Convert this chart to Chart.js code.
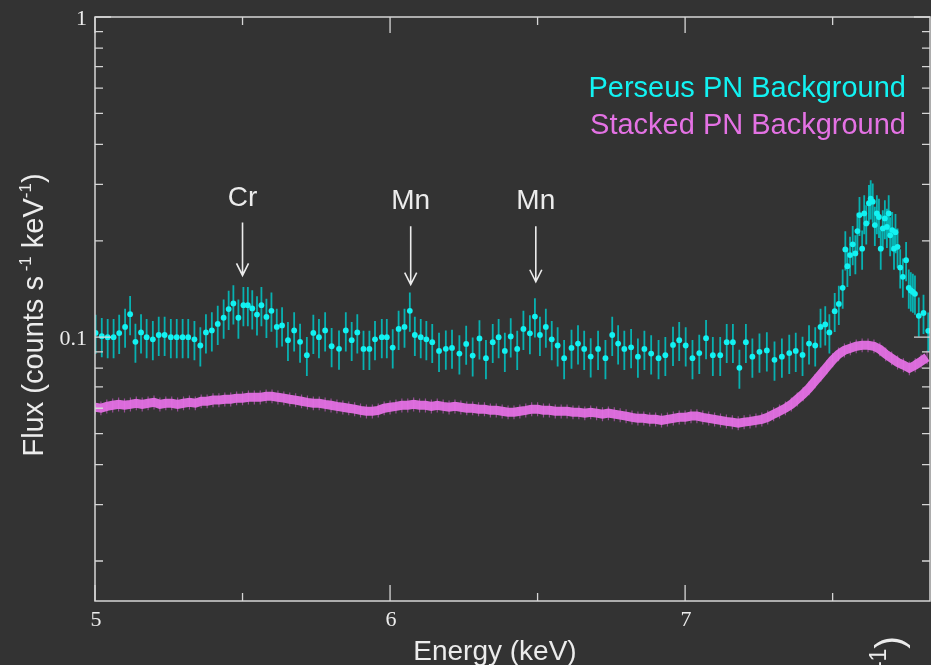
<!DOCTYPE html>
<html>
<head>
<meta charset="utf-8">
<script src="https://cdn.jsdelivr.net/npm/chart.js@4.4.1/dist/chart.umd.min.js"></script>
<style>
  html, body { margin: 0; padding: 0; background: #333333; }
  #wrap { width: 931px; height: 665px; overflow: hidden; }
</style>
</head>
<body>
<div id="wrap"><canvas id="spec" width="934" height="665"></canvas></div>
<script>
// Perseus PN background (binned, with errors)
const perseusEnergy = [
  5.002, 5.023, 5.043, 5.063, 5.082, 5.102, 5.119, 5.137, 5.156, 5.175,
  5.196, 5.216, 5.236, 5.257, 5.277, 5.297, 5.316, 5.337, 5.357, 5.376,
  5.396, 5.416, 5.436, 5.453, 5.469, 5.486, 5.503, 5.518, 5.533, 5.549,
  5.564, 5.581, 5.598, 5.616, 5.634, 5.654, 5.675, 5.695, 5.718, 5.740,
  5.759, 5.780, 5.802, 5.827, 5.850, 5.870, 5.889, 5.910, 5.930, 5.949,
  5.972, 5.989, 6.009, 6.029, 6.049, 6.067, 6.084, 6.104, 6.123, 6.143,
  6.166, 6.189, 6.210, 6.235, 6.258, 6.280, 6.303, 6.325, 6.348, 6.368,
  6.389, 6.409, 6.431, 6.452, 6.474, 6.491, 6.508, 6.528, 6.548, 6.568,
  6.590, 6.615, 6.637, 6.658, 6.680, 6.705, 6.730, 6.753, 6.773, 6.794,
  6.817, 6.840, 6.862, 6.885, 6.910, 6.933, 6.959, 6.980, 7.002, 7.025,
  7.048, 7.071, 7.094, 7.119, 7.141, 7.162, 7.184, 7.206, 7.228, 7.252,
  7.277, 7.303, 7.328, 7.353, 7.375, 7.398, 7.420, 7.441, 7.459, 7.475,
  7.489, 7.507, 7.521, 7.534, 7.543, 7.550, 7.559, 7.568, 7.577, 7.584,
  7.591, 7.600, 7.607, 7.614, 7.623, 7.629, 7.636, 7.643, 7.650, 7.657,
  7.663, 7.670, 7.677, 7.684, 7.690, 7.695, 7.702, 7.708, 7.713, 7.720,
  7.729, 7.738, 7.749, 7.758, 7.765, 7.772, 7.779, 7.792, 7.808, 7.824
];
const perseusFlux = [
  0.1031, 0.1007, 0.1000, 0.1000, 0.1030, 0.1077, 0.1180, 0.0967, 0.1035, 0.1000,
  0.0985, 0.1016, 0.1016, 0.1000, 0.1000, 0.1000, 0.1000, 0.0985, 0.0942, 0.1035,
  0.1050, 0.1100, 0.1150, 0.1224, 0.1274, 0.1150, 0.1259, 0.1259, 0.1230, 0.1177,
  0.1259, 0.1157, 0.1209, 0.1077, 0.1088, 0.0979, 0.1050, 0.0967, 0.0879, 0.1031,
  0.1000, 0.1050, 0.0937, 0.0920, 0.1050, 0.0979, 0.1035, 0.0919, 0.0919, 0.0985,
  0.1000, 0.1000, 0.0928, 0.1061, 0.1077, 0.1209, 0.1016, 0.1000, 0.0985, 0.0965,
  0.0906, 0.0920, 0.0926, 0.0889, 0.0953, 0.0876, 0.0991, 0.0860, 0.0965, 0.1000,
  0.0906, 0.1005, 0.0919, 0.1061, 0.1028, 0.1160, 0.1016, 0.1077, 0.0985, 0.0942,
  0.0860, 0.0926, 0.0955, 0.0919, 0.0870, 0.0919, 0.0860, 0.1016, 0.0955, 0.0919,
  0.0930, 0.0869, 0.0919, 0.0889, 0.0860, 0.0879, 0.0946, 0.0979, 0.0942, 0.0860,
  0.0892, 0.0993, 0.0879, 0.0879, 0.0965, 0.0965, 0.0802, 0.0965, 0.0869, 0.0900,
  0.0909, 0.0850, 0.0869, 0.0892, 0.0906, 0.0880, 0.0955, 0.0942, 0.1077, 0.1096,
  0.1035, 0.1206, 0.1270, 0.1426, 0.1880, 0.1667, 0.1805, 0.1950, 0.1827, 0.2145,
  0.2406, 0.1890, 0.2436, 0.2266, 0.2620, 0.2710, 0.2650, 0.2240, 0.2436, 0.2373,
  0.1890, 0.2186, 0.2350, 0.2210, 0.2436, 0.2080, 0.2160, 0.1890, 0.2128, 0.1915,
  0.1650, 0.1544, 0.1740, 0.1426, 0.1400, 0.1385, 0.1366, 0.1166, 0.1190, 0.1047
];
const perseusRelErr = 0.14;

// Stacked PN background (fine bins)
const stackedEnergy = [
  5.00, 5.02, 5.04, 5.06, 5.08, 5.10, 5.12, 5.14, 5.16, 5.18,
  5.20, 5.22, 5.24, 5.26, 5.28, 5.30, 5.32, 5.34, 5.36, 5.38,
  5.40, 5.42, 5.44, 5.46, 5.48, 5.50, 5.52, 5.54, 5.56, 5.58,
  5.60, 5.62, 5.64, 5.66, 5.68, 5.70, 5.72, 5.74, 5.76, 5.78,
  5.80, 5.82, 5.84, 5.86, 5.88, 5.90, 5.92, 5.94, 5.96, 5.98,
  6.00, 6.02, 6.04, 6.06, 6.08, 6.10, 6.12, 6.14, 6.16, 6.18,
  6.20, 6.22, 6.24, 6.26, 6.28, 6.30, 6.32, 6.34, 6.36, 6.38,
  6.40, 6.42, 6.44, 6.46, 6.48, 6.50, 6.52, 6.54, 6.56, 6.58,
  6.60, 6.62, 6.64, 6.66, 6.68, 6.70, 6.72, 6.74, 6.76, 6.78,
  6.80, 6.82, 6.84, 6.86, 6.88, 6.90, 6.92, 6.94, 6.96, 6.98,
  7.00, 7.02, 7.04, 7.06, 7.08, 7.10, 7.12, 7.14, 7.16, 7.18,
  7.20, 7.22, 7.24, 7.26, 7.28, 7.30, 7.32, 7.34, 7.36, 7.38,
  7.40, 7.42, 7.44, 7.46, 7.48, 7.50, 7.52, 7.54, 7.56, 7.58,
  7.60, 7.62, 7.64, 7.66, 7.68, 7.70, 7.72, 7.74, 7.76, 7.78,
  7.80, 7.82
];
const stackedFlux = [
  0.0604, 0.0600, 0.0608, 0.0613, 0.0617, 0.0613, 0.0617, 0.0622, 0.0617, 0.0622,
  0.0626, 0.0617, 0.0622, 0.0622, 0.0617, 0.0622, 0.0626, 0.0622, 0.0631, 0.0631,
  0.0636, 0.0636, 0.0640, 0.0640, 0.0645, 0.0645, 0.0649, 0.0649, 0.0649, 0.0654,
  0.0654, 0.0649, 0.0645, 0.0640, 0.0636, 0.0631, 0.0626, 0.0622, 0.0622, 0.0617,
  0.0613, 0.0608, 0.0604, 0.0600, 0.0596, 0.0591, 0.0587, 0.0587, 0.0591, 0.0600,
  0.0604, 0.0608, 0.0613, 0.0613, 0.0617, 0.0613, 0.0613, 0.0608, 0.0613, 0.0608,
  0.0604, 0.0608, 0.0604, 0.0600, 0.0600, 0.0596, 0.0596, 0.0591, 0.0591, 0.0587,
  0.0583, 0.0583, 0.0587, 0.0591, 0.0596, 0.0596, 0.0591, 0.0591, 0.0587, 0.0587,
  0.0587, 0.0583, 0.0583, 0.0579, 0.0583, 0.0579, 0.0575, 0.0579, 0.0575, 0.0571,
  0.0567, 0.0562, 0.0558, 0.0558, 0.0554, 0.0554, 0.0550, 0.0554, 0.0558, 0.0562,
  0.0562, 0.0567, 0.0567, 0.0562, 0.0558, 0.0554, 0.0550, 0.0546, 0.0543, 0.0539,
  0.0543, 0.0546, 0.0550, 0.0554, 0.0562, 0.0575, 0.0587, 0.0600, 0.0617, 0.0640,
  0.0664, 0.0693, 0.0729, 0.0766, 0.0806, 0.0848, 0.0885, 0.0910, 0.0924, 0.0937,
  0.0944, 0.0944, 0.0937, 0.0917, 0.0885, 0.0860, 0.0835, 0.0818, 0.0800, 0.0818,
  0.0841, 0.0866
];
const stackedRelErr = 0.05;

// line identifications (energy in keV, arrow top / tip in flux units)
const lineLabels = ['Cr', 'Mn', 'Mn'];
const lineEnergy = [5.50, 6.07, 6.494];
const lineArrowTop = [0.228, 0.222, 0.222];
const lineArrowTip = [0.156, 0.146, 0.149];

// axis ticks
const xMajorTicks = [5, 6, 7];
const xMinorTicks = [5.5, 6.5, 7.5];
const yMajorTicks = [0.1, 1];
const yMinorTicks = [0.02, 0.03, 0.04, 0.05, 0.06, 0.07, 0.08, 0.09,
                     0.2, 0.3, 0.4, 0.5, 0.6, 0.7, 0.8, 0.9];

const sansFont = '"Liberation Sans", Arial, sans-serif';
const serifFont = '"Liberation Serif", "Times New Roman", serif';
const axisColor = '#d6d6d6';
const textColor = '#ececec';
const cyan = '#12f2f2';
const magenta = '#e472e4';

function clipToArea(ctx, area) {
  ctx.beginPath();
  ctx.rect(area.left, area.top, area.right - area.left, area.bottom - area.top);
  ctx.clip();
}

function errorBars(chart, energies, fluxes, rel, color, width) {
  const ctx = chart.ctx, xs = chart.scales.x, ys = chart.scales.y;
  ctx.save();
  clipToArea(ctx, chart.chartArea);
  ctx.strokeStyle = color;
  ctx.lineWidth = width;
  ctx.beginPath();
  for (let i = 0; i < energies.length; i++) {
    const px = xs.getPixelForValue(energies[i]);
    ctx.moveTo(px, ys.getPixelForValue(fluxes[i] * (1 + rel)));
    ctx.lineTo(px, ys.getPixelForValue(fluxes[i] * (1 - rel)));
  }
  ctx.stroke();
  ctx.restore();
}

// draws text pieces in a row, some of them raised as superscripts
function drawPieces(ctx, pieces, size) {
  let x = 0;
  for (const p of pieces) {
    const fs = p.sup ? Math.round(size * 0.6) : size;
    ctx.font = fs + 'px ' + sansFont;
    ctx.fillText(p.t, x, p.sup ? -size * 0.42 : 0);
    x += ctx.measureText(p.t).width;
  }
  return x;
}
function piecesWidth(ctx, pieces, size) {
  let w = 0;
  for (const p of pieces) {
    ctx.font = (p.sup ? Math.round(size * 0.6) : size) + 'px ' + sansFont;
    w += ctx.measureText(p.t).width;
  }
  return w;
}

const backdrop = {
  id: 'backdrop',
  beforeDraw(chart) {
    const ctx = chart.ctx;
    ctx.save();
    ctx.fillStyle = '#333333';
    ctx.fillRect(0, 0, chart.width, chart.height);
    ctx.restore();
  },
  beforeDatasetDraw(chart, args) {
    if (args.index === 0) {
      errorBars(chart, perseusEnergy, perseusFlux, perseusRelErr, 'rgba(0, 200, 200, 0.85)', 1.8);
    } else if (args.index === 1) {
      errorBars(chart, stackedEnergy, stackedFlux, stackedRelErr, 'rgba(215, 95, 215, 0.6)', 1.2);
    }
  }
};

const frame = {
  id: 'frame',
  afterDraw(chart) {
    const ctx = chart.ctx, a = chart.chartArea, xs = chart.scales.x, ys = chart.scales.y;
    ctx.save();
    ctx.strokeStyle = axisColor;
    ctx.lineWidth = 1.5;
    ctx.strokeRect(a.left, a.top, a.right - a.left, a.bottom - a.top);

    // inward ticks on all four sides
    ctx.lineWidth = 1.3;
    ctx.beginPath();
    const xt = (v, len) => {
      const px = xs.getPixelForValue(v);
      ctx.moveTo(px, a.bottom); ctx.lineTo(px, a.bottom - len);
      ctx.moveTo(px, a.top); ctx.lineTo(px, a.top + len);
    };
    const yt = (v, len) => {
      const py = ys.getPixelForValue(v);
      ctx.moveTo(a.left, py); ctx.lineTo(a.left + len, py);
      ctx.moveTo(a.right, py); ctx.lineTo(a.right - len, py);
    };
    xMajorTicks.forEach(v => xt(v, 16));
    xMinorTicks.forEach(v => xt(v, 8));
    yMajorTicks.forEach(v => yt(v, 16));
    yMinorTicks.forEach(v => yt(v, 8));
    ctx.stroke();

    // tick labels
    ctx.fillStyle = textColor;
    ctx.font = '22px ' + serifFont;
    ctx.textAlign = 'center';
    ctx.textBaseline = 'middle';
    xMajorTicks.forEach(v => ctx.fillText(String(v), xs.getPixelForValue(v) + 1, a.bottom + 19));
    ctx.textAlign = 'right';
    yMajorTicks.forEach(v => ctx.fillText(String(v), a.left - 8, ys.getPixelForValue(v) + 2));

    // axis titles
    ctx.textBaseline = 'alphabetic';
    ctx.textAlign = 'center';
    ctx.font = '28px ' + sansFont;
    ctx.fillText('Energy (keV)', 495, 660);

    const yTitle = [{ t: 'Flux (counts s' }, { t: ' -1', sup: true }, { t: ' keV' }, { t: '-1', sup: true }, { t: ')' }];
    ctx.save();
    ctx.textAlign = 'left';
    const w = piecesWidth(ctx, yTitle, 29);
    ctx.translate(43, a.top + (a.bottom - a.top) / 2 + w / 2 + 6);
    ctx.rotate(-Math.PI / 2);
    drawPieces(ctx, yTitle, 29);
    ctx.restore();

    // neighbouring panel's axis title, cut by the edge
    const frag = [{ t: 'Flux (counts s' }, { t: ' -1', sup: true }, { t: ' keV' }, { t: '-1', sup: true }, { t: ')' }];
    ctx.save();
    ctx.textAlign = 'left';
    const fw = piecesWidth(ctx, frag, 38);
    ctx.translate(902, 636 + fw);
    ctx.rotate(-Math.PI / 2);
    drawPieces(ctx, frag, 38);
    ctx.restore();

    // emission line markers
    ctx.strokeStyle = textColor;
    ctx.lineWidth = 1.6;
    ctx.font = '28px ' + sansFont;
    ctx.textAlign = 'center';
    for (let i = 0; i < lineLabels.length; i++) {
      const px = xs.getPixelForValue(lineEnergy[i]);
      const top = ys.getPixelForValue(lineArrowTop[i]);
      const tip = ys.getPixelForValue(lineArrowTip[i]);
      ctx.beginPath();
      ctx.moveTo(px, top); ctx.lineTo(px, tip);
      ctx.moveTo(px - 6, tip - 12); ctx.lineTo(px, tip); ctx.lineTo(px + 6, tip - 12);
      ctx.stroke();
      ctx.fillText(lineLabels[i], px, top - 17);
    }

    // series labels
    ctx.textAlign = 'right';
    ctx.font = '29px ' + sansFont;
    ctx.fillStyle = cyan;
    ctx.fillText('Perseus PN Background', 906, 97);
    ctx.fillStyle = magenta;
    ctx.fillText('Stacked PN Background', 906, 134);
    ctx.restore();
  }
};

new Chart(document.getElementById('spec').getContext('2d'), {
  type: 'scatter',
  data: {
    datasets: [
      {
        label: 'Perseus PN Background',
        data: perseusEnergy.map((e, i) => ({ x: e, y: perseusFlux[i] })),
        showLine: false,
        pointRadius: 2.9,
        pointBackgroundColor: cyan,
        pointBorderWidth: 0
      },
      {
        type: 'line',
        label: 'Stacked PN Background',
        data: stackedEnergy.map((e, i) => ({ x: e, y: stackedFlux[i] })),
        borderColor: 'rgba(228, 112, 228, 0.95)',
        borderWidth: 9,
        pointRadius: 0,
        tension: 0,
        fill: false
      }
    ]
  },
  options: {
    responsive: false,
    animation: false,
    events: [],
    layout: { padding: { left: 95, right: 1, top: 17, bottom: 64 } },
    scales: {
      x: { type: 'linear', min: 5, max: 7.83, display: false },
      y: { type: 'logarithmic', min: 0.015, max: 1, display: false }
    },
    plugins: {
      legend: { display: false },
      tooltip: { enabled: false },
      title: { display: false }
    }
  },
  plugins: [backdrop, frame]
});
</script>
</body>
</html>
